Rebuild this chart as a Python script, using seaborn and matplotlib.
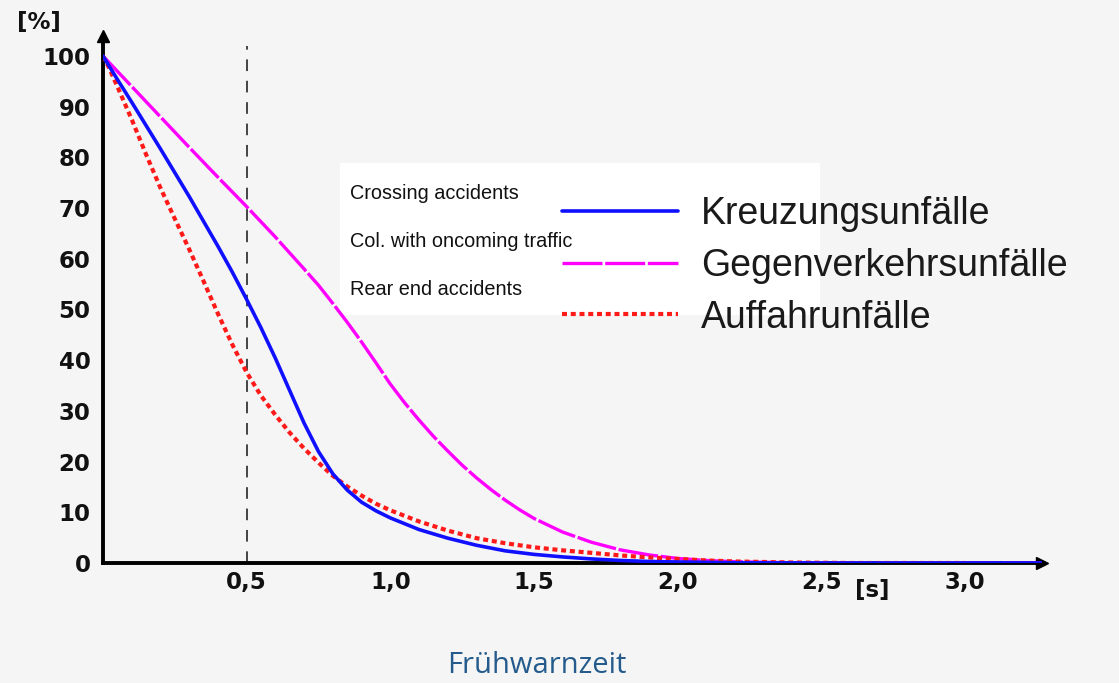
import numpy as np
import pandas as pd
import matplotlib
matplotlib.use("Agg")
import matplotlib.pyplot as plt
from matplotlib.patches import Rectangle
import seaborn as sns

# values
x_kreuz = [0, 0.05, 0.1, 0.15, 0.2, 0.25, 0.3, 0.35, 0.4, 0.45, 0.5, 0.55, 0.6, 0.65, 0.7, 0.75,
           0.8, 0.85, 0.9, 0.95, 1.0, 1.1, 1.2, 1.3, 1.4, 1.5, 1.6, 1.7, 1.8, 1.9, 2.0, 2.2, 2.5, 3.27]
y_kreuz = [100, 95.4, 90.9, 86.3, 81.7, 77.0, 72.3, 67.4, 62.5, 57.4, 52.0, 46.4, 40.4, 34.0, 27.6, 22.0,
           17.6, 14.4, 12.0, 10.3, 8.9, 6.6, 4.9, 3.5, 2.4, 1.7, 1.2, 0.8, 0.5, 0.3, 0.2, 0.05, 0, 0]

x_gegen = [0, 0.1, 0.2, 0.3, 0.4, 0.5, 0.6, 0.7, 0.75, 0.8, 0.85, 0.9, 0.95, 1.0, 1.05, 1.1, 1.15,
           1.2, 1.25, 1.3, 1.35, 1.4, 1.45, 1.5, 1.6, 1.7, 1.8, 1.9, 2.0, 2.1, 2.2, 2.4, 2.6, 3.27]
y_gegen = [100, 94.0, 88.0, 82.0, 76.1, 70.3, 64.3, 58.0, 54.8, 51.2, 47.5, 43.6, 39.5, 35.3, 31.6, 28.2, 25.0,
           22.1, 19.3, 16.8, 14.5, 12.4, 10.5, 8.8, 6.1, 4.1, 2.6, 1.6, 0.9, 0.5, 0.25, 0.05, 0, 0]

x_auffahr = [0, 0.02, 0.05, 0.1, 0.15, 0.2, 0.25, 0.3, 0.35, 0.4, 0.45, 0.5, 0.55, 0.6, 0.65, 0.7, 0.75,
             0.8, 0.85, 0.9, 0.95, 1.0, 1.1, 1.2, 1.3, 1.4, 1.5, 1.6, 1.7, 1.8, 1.9, 2.0, 2.1, 2.2,
             2.4, 2.6, 3.0]
y_auffahr = [100, 97.8, 94.0, 87.5, 80.6, 74.0, 67.9, 61.9, 55.6, 49.2, 43.1, 37.6, 33.0, 29.2, 25.7, 22.6, 19.8,
             17.2, 15.1, 13.3, 11.7, 10.4, 8.2, 6.4, 4.9, 3.9, 3.1, 2.5, 2.0, 1.5, 1.1, 0.8, 0.5, 0.3,
             0.1, 0, 0]

labels_de = ["Kreuzungsunfälle", "Gegenverkehrsunfälle", "Auffahrunfälle"]
labels_en = ["Crossing accidents", "Col. with oncoming traffic", "Rear end accidents"]
x_ticks = [0.5, 1.0, 1.5, 2.0, 2.5, 3.0]
x_ticklabels = ["0,5", "1,0", "1,5", "2,0", "2,5", "3,0"]
y_ticks = list(range(0, 101, 10))

sns.set_theme(style="white")
plt.rcParams["font.family"] = ["Liberation Sans", "DejaVu Sans"]

bg = "#f5f5f5"
fig = plt.figure(figsize=(11.19, 6.83), dpi=100, facecolor=bg)
ax = fig.add_axes([0.092, 0.1757, 0.8396, 0.772])
ax.set_facecolor(bg)

# white box behind the legend (below the curves)
ax.add_patch(Rectangle((0.304, 0.539), 0.429, 0.222, transform=fig.transFigure,
                       facecolor="white", edgecolor="none", zorder=0.5, clip_on=False))

ax.axvline(0.5, ymin=0, ymax=0.98, color="#444444", lw=1.4, linestyle=(0, (6, 5)), zorder=1)

df1 = pd.DataFrame({"x": x_kreuz, "y": y_kreuz})
df2 = pd.DataFrame({"x": x_gegen, "y": y_gegen})
df3 = pd.DataFrame({"x": x_auffahr, "y": y_auffahr})
sns.lineplot(data=df2, x="x", y="y", ax=ax, color="#ff00ff", lw=2.4,
             linestyle=(0, (12, 0.8)), label=labels_de[1], zorder=3)
sns.lineplot(data=df3, x="x", y="y", ax=ax, color="#ff1a1a", lw=3.0,
             linestyle=(0, (1.2, 0.9)), label=labels_de[2], zorder=4)
sns.lineplot(data=df1, x="x", y="y", ax=ax, color="#1010ff", lw=2.6,
             label=labels_de[0], zorder=5)

ax.set_xlim(0, 3.27)
ax.set_ylim(0, 104)
ax.set_xlabel("")
ax.set_ylabel("")

for side in ["top", "right"]:
    ax.spines[side].set_visible(False)
for side in ["left", "bottom"]:
    ax.spines[side].set_color("black")
    ax.spines[side].set_linewidth(2.8)
    ax.spines[side].set_zorder(2)

tick_font = ["DejaVu Sans"]
ax.set_xticks(x_ticks)
ax.set_xticklabels(x_ticklabels)
ax.set_yticks(y_ticks)
ax.tick_params(axis="both", direction="in", length=9, width=1.2, color="#333333",
               labelsize=16.5, labelcolor="#111111")
ax.tick_params(axis="x", pad=6)
ax.tick_params(axis="y", pad=9)
for lab in ax.get_xticklabels() + ax.get_yticklabels():
    lab.set_fontweight("bold")
    lab.set_family(tick_font)

# arrow heads on the axes
ax.plot([1], [0], marker=">", markersize=9, color="black", transform=ax.transAxes, clip_on=False)
ax.plot([0], [1], marker="^", markersize=9, color="black", transform=ax.transAxes, clip_on=False)

fig.text(0.015, 0.967, "[%]", fontsize=16.5, fontweight="bold", color="#111111", va="center",
         family=tick_font)
fig.text(0.764, 0.136, "[s]", fontsize=16.5, fontweight="bold", color="#111111", va="center",
         family=tick_font)

handles, labels = ax.get_legend_handles_labels()
order = [labels.index(l) for l in labels_de]
leg = ax.legend([handles[i] for i in order], labels_de, loc="upper left",
                bbox_to_anchor=(0.5022, 0.713), bbox_transform=fig.transFigure,
                frameon=False, fontsize=27, handlelength=3.1, handletextpad=0.6,
                labelspacing=0.42, borderpad=0, borderaxespad=0)
leg.set_zorder(10)
for t in leg.get_texts():
    t.set_color("#1a1a1a")

for i, t in enumerate(labels_en):
    fig.text(0.313, 0.717 - i * 0.0705, t, fontsize=14.3, color="#111111", va="center")

fig.text(0.48, 0.026, "Frühwarnzeit", fontsize=21, color="#245b8c", ha="center",
         va="center", family=["Open Sans", "DejaVu Sans"])

fig.savefig("out.png", dpi=100, facecolor=bg)
